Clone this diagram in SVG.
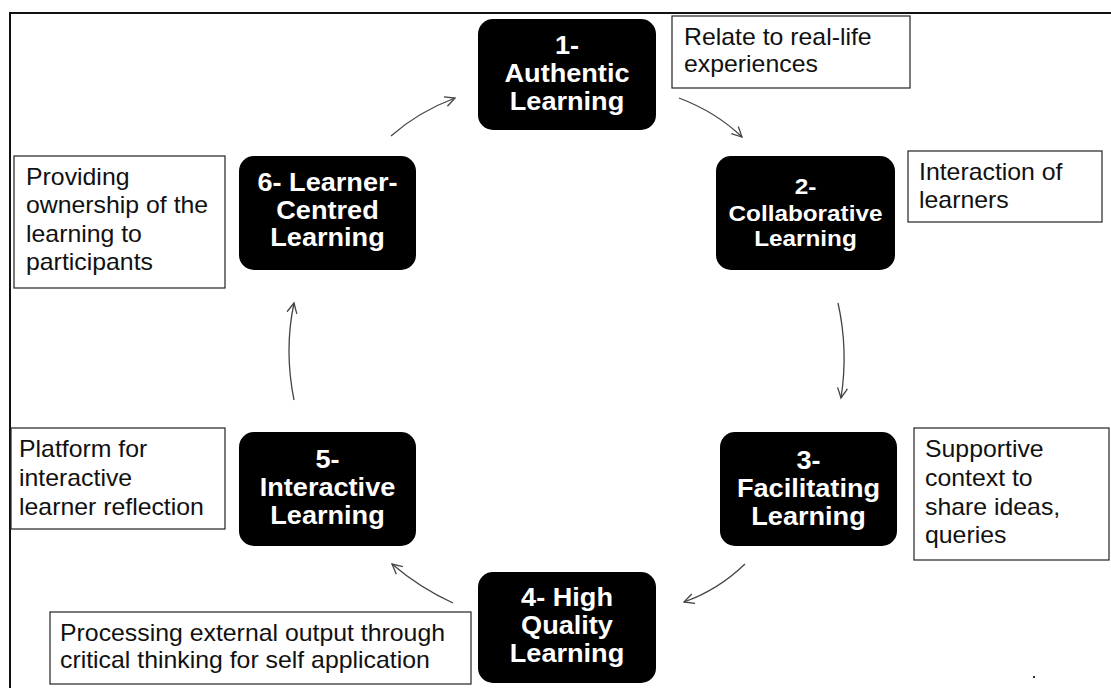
<svg xmlns="http://www.w3.org/2000/svg" width="1111" height="688" viewBox="0 0 1111 688">
<style>
.node{fill:#000;}
.nt{font-family:"Liberation Sans",Arial,sans-serif;font-weight:bold;font-size:25px;fill:#fff;text-anchor:middle;}
.nt2{font-size:22.5px;}
.box{fill:#fff;stroke:#222;stroke-width:1.2;}
.bt{font-family:"Liberation Sans",Arial,sans-serif;font-size:23px;fill:#111;}
.con{fill:none;stroke:#444;stroke-width:1.3;marker-end:url(#ah);}
</style>
<defs>
<marker id="ah" markerUnits="userSpaceOnUse" markerWidth="14" markerHeight="14" refX="11" refY="6" orient="auto">
<path d="M1,1 L11,6 L1,11" fill="none" stroke="#444" stroke-width="1.3"/>
</marker>
</defs>
<rect width="1111" height="688" fill="#fff"/>
<g id="frame" stroke="#111" stroke-width="2" fill="none">
<path d="M10,688 L10,13 L1111,13"/>
</g>
<g id="connectors">
<path class="con" d="M391,136 Q418,112 455,98"/>
<path class="con" d="M679,98 Q716,112 742,137"/>
<path class="con" d="M838,303 Q848.5,350 841,398"/>
<path class="con" d="M745,564 Q718,590 684,602"/>
<path class="con" d="M453,603 Q420,588 392,564"/>
<path class="con" d="M294,400 Q284,350 294,303"/>
</g>
<g id="node1">
<rect class="node" x="478" y="19" width="178" height="111" rx="15"/>
<text class="nt" transform="translate(567,54) scale(1.085,1)">1-</text>
<text class="nt" transform="translate(567,82) scale(1.085,1)">Authentic</text>
<text class="nt" transform="translate(567,110) scale(1.085,1)">Learning</text>
</g>
<g id="node2">
<rect class="node" x="716" y="156" width="179" height="114" rx="15"/>
<text class="nt nt2" transform="translate(805.5,194) scale(1.08,1)">2-</text>
<text class="nt nt2" transform="translate(805.5,221) scale(1.08,1)">Collaborative</text>
<text class="nt nt2" transform="translate(805.5,246) scale(1.08,1)">Learning</text>
</g>
<g id="node3">
<rect class="node" x="720" y="432" width="177" height="114" rx="15"/>
<text class="nt" transform="translate(808.5,469) scale(1.085,1)">3-</text>
<text class="nt" transform="translate(808.5,497) scale(1.085,1)">Facilitating</text>
<text class="nt" transform="translate(808.5,525) scale(1.085,1)">Learning</text>
</g>
<g id="node4">
<rect class="node" x="478" y="572" width="178" height="111" rx="15"/>
<text class="nt" transform="translate(567,606) scale(1.085,1)">4- High</text>
<text class="nt" transform="translate(567,634) scale(1.085,1)">Quality</text>
<text class="nt" transform="translate(567,662) scale(1.085,1)">Learning</text>
</g>
<g id="node5">
<rect class="node" x="239" y="432" width="177" height="114" rx="15"/>
<text class="nt" transform="translate(327.5,468) scale(1.085,1)">5-</text>
<text class="nt" transform="translate(327.5,496) scale(1.085,1)">Interactive</text>
<text class="nt" transform="translate(327.5,524) scale(1.085,1)">Learning</text>
</g>
<g id="node6">
<rect class="node" x="239" y="156" width="177" height="114" rx="15"/>
<text class="nt" transform="translate(327.5,191) scale(1.085,1)">6- Learner-</text>
<text class="nt" transform="translate(327.5,219) scale(1.085,1)">Centred</text>
<text class="nt" transform="translate(327.5,246) scale(1.085,1)">Learning</text>
</g>
<g id="note1">
<rect class="box" x="672" y="16" width="238" height="72"/>
<text class="bt" transform="translate(684,45) scale(1.08,1)">Relate to real-life</text>
<text class="bt" transform="translate(684,72) scale(1.08,1)">experiences</text>
</g>
<g id="note2">
<rect class="box" x="908" y="151" width="194" height="71"/>
<text class="bt" transform="translate(919,180) scale(1.08,1)">Interaction of</text>
<text class="bt" transform="translate(919,208) scale(1.08,1)">learners</text>
</g>
<g id="note3">
<rect class="box" x="914" y="428" width="195" height="132"/>
<text class="bt" transform="translate(925,457) scale(1.08,1)">Supportive</text>
<text class="bt" transform="translate(925,486) scale(1.08,1)">context to</text>
<text class="bt" transform="translate(925,515) scale(1.08,1)">share ideas,</text>
<text class="bt" transform="translate(925,543) scale(1.08,1)">queries</text>
</g>
<g id="note4">
<rect class="box" x="50" y="612" width="421" height="72"/>
<text class="bt" transform="translate(60,641) scale(1.08,1)">Processing external output through</text>
<text class="bt" transform="translate(60,668) scale(1.08,1)">critical thinking for self application</text>
</g>
<g id="note5">
<rect class="box" x="11" y="428" width="214" height="101"/>
<text class="bt" transform="translate(19,457) scale(1.08,1)">Platform for</text>
<text class="bt" transform="translate(19,486) scale(1.08,1)">interactive</text>
<text class="bt" transform="translate(19,515) scale(1.08,1)">learner reflection</text>
</g>
<g id="note6">
<rect class="box" x="14" y="156" width="211" height="132"/>
<text class="bt" transform="translate(26,185) scale(1.08,1)">Providing</text>
<text class="bt" transform="translate(26,213) scale(1.08,1)">ownership of the</text>
<text class="bt" transform="translate(26,242) scale(1.08,1)">learning to</text>
<text class="bt" transform="translate(26,270) scale(1.08,1)">participants</text>
</g>
<rect x="1033" y="676" width="2" height="2" fill="#333"/>
</svg>
